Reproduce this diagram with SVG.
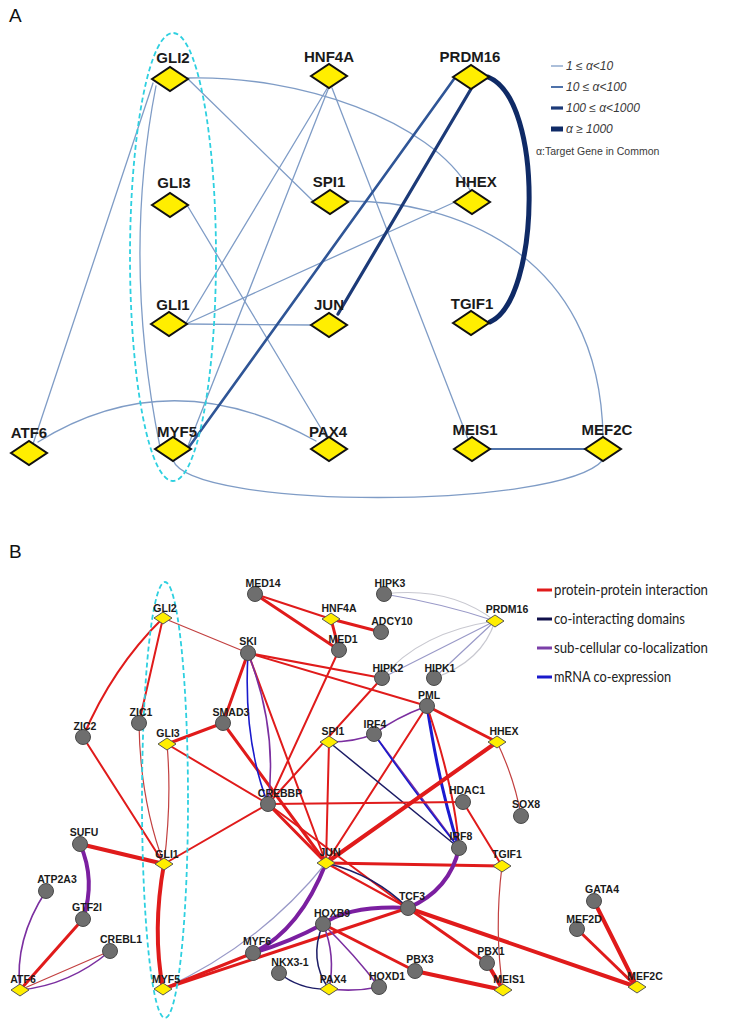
<svg xmlns="http://www.w3.org/2000/svg" width="732" height="1024" viewBox="0 0 732 1024">
<defs>
<style>
.bg{fill:#ffffff}
.panel{font-family:"Liberation Sans",Arial,sans-serif;font-size:19px;fill:#111}
.da{fill:#ffee00;stroke:#111;stroke-width:2}
.la{font-family:"Liberation Sans",Arial,sans-serif;font-size:15px;font-weight:bold;fill:#1a1a1a;text-anchor:middle}
.db{fill:#ffee00;stroke:#555;stroke-width:1}
.cb{fill:#6e6e6e;stroke:#4a4a4a;stroke-width:1}
.lb{font-family:"Liberation Sans",Arial,sans-serif;font-size:10.5px;font-weight:bold;fill:#1a1a1a;text-anchor:middle}
.e{fill:none;stroke-linecap:round}
.a1{stroke:#7f9cc6;stroke-width:1.3}
.a2{stroke:#4e72aa;stroke-width:2}
.a3{stroke:#2f5596;stroke-width:2.6}
.a4{stroke:#1c3a78;stroke-width:3.2}
.a5{stroke:#0f2a66;stroke-width:5}
.cyan{fill:none;stroke:#2ed0e0;stroke-width:1.8;stroke-dasharray:5 3}
.r{stroke:#e01b1b;stroke-width:2}
.r1{stroke:#c24040;stroke-width:1.2}
.r3{stroke:#e01b1b;stroke-width:3}
.r4{stroke:#e01b1b;stroke-width:4}
.nv{stroke:#1c1c66;stroke-width:1.5}
.pu{stroke:#7b2fa0;stroke-width:1.6}
.pu4{stroke:#7b1fa0;stroke-width:4}
.bl{stroke:#1a1acc;stroke-width:1.6}
.bl3{stroke:#1a1ad0;stroke-width:3}
.gy{stroke:#c8c8d0;stroke-width:1.2}
.lv{stroke:#9a9ac8;stroke-width:1.2}
.lg{font-family:"Liberation Sans",Arial,sans-serif;font-size:12px;font-style:italic;fill:#3a3a3a}
.lg2{font-family:"Liberation Sans Narrow","Liberation Sans",Arial,sans-serif;font-size:10.5px;fill:#3a3a3a}
.lgb{font-family:Lato,"Liberation Sans",Arial,sans-serif;font-size:15px;fill:#222}
</style>
</defs>
<rect class="bg" x="0" y="0" width="732" height="1024"/>

<!-- Panel A -->
<text class="panel" x="9" y="22">A</text>
<g id="A-connectors">
<path class="e a1" d="M187 78 C300 75 430 120 470 190"/>
<path class="e a1" d="M188 79 L313 201"/>
<path class="e a1" d="M153 83 L33 444"/>
<path class="e a1" d="M156 86 Q122 260 160 447"/>
<path class="e a1" d="M328 87 L186 323"/>
<path class="e a1" d="M329 87 L188 446"/>
<path class="e a1" d="M332 88 L468 439"/>
<path class="e a1" d="M346 201 C450 200 600 250 603 437"/>
<path class="e a1" d="M187 205 L328 440"/>
<path class="e a1" d="M186 324 L312 325"/>
<path class="e a1" d="M186 324 L455 202"/>
<path class="e a1" d="M38 442 Q170 360 316 441"/>
<path class="e a1" d="M173 460 C190 510 560 510 603 460"/>
<path class="e a2" d="M489 449 L586 449"/>
<path class="e a3" d="M454 79 L189 447"/>
<path class="e a4" d="M471 89 L338 314"/>
<path class="e a5" d="M488 77 C545 100 540 300 490 322"/>
</g>
<ellipse class="cyan" cx="173" cy="257" rx="43" ry="224"/>
<g id="A-GLI2"><path class="da" d="M152 79 L170 67 L188 79 L170 91 Z"/><text class="la" x="173" y="63">GLI2</text></g>
<g id="A-HNF4A"><path class="da" d="M311 76 L329 64 L347 76 L329 88 Z"/><text class="la" x="329" y="62">HNF4A</text></g>
<g id="A-PRDM16"><path class="da" d="M453 77 L471 65 L489 77 L471 89 Z"/><text class="la" x="470" y="62">PRDM16</text></g>
<g id="A-GLI3"><path class="da" d="M152 205 L170 193 L188 205 L170 217 Z"/><text class="la" x="174" y="188">GLI3</text></g>
<g id="A-SPI1"><path class="da" d="M312 202 L330 190 L348 202 L330 214 Z"/><text class="la" x="329" y="187">SPI1</text></g>
<g id="A-HHEX"><path class="da" d="M454 202 L472 190 L490 202 L472 214 Z"/><text class="la" x="476" y="187">HHEX</text></g>
<g id="A-GLI1"><path class="da" d="M151 324 L169 312 L187 324 L169 336 Z"/><text class="la" x="173" y="310">GLI1</text></g>
<g id="A-JUN"><path class="da" d="M311 325 L329 313 L347 325 L329 337 Z"/><text class="la" x="329" y="310">JUN</text></g>
<g id="A-TGIF1"><path class="da" d="M453 323 L471 311 L489 323 L471 335 Z"/><text class="la" x="472" y="309">TGIF1</text></g>
<g id="A-ATF6"><path class="da" d="M11 453 L29 441 L47 453 L29 465 Z"/><text class="la" x="29" y="438">ATF6</text></g>
<g id="A-MYF5"><path class="da" d="M155 449 L173 437 L191 449 L173 461 Z"/><text class="la" x="177" y="437">MYF5</text></g>
<g id="A-PAX4"><path class="da" d="M311 449 L329 437 L347 449 L329 461 Z"/><text class="la" x="328" y="437">PAX4</text></g>
<g id="A-MEIS1"><path class="da" d="M454 449 L472 437 L490 449 L472 461 Z"/><text class="la" x="475" y="435">MEIS1</text></g>
<g id="A-MEF2C"><path class="da" d="M585 449 L603 437 L621 449 L603 461 Z"/><text class="la" x="607" y="435">MEF2C</text></g>

<g id="A-legend">
<line class="a1" x1="551" y1="66" x2="563" y2="66"/>
<line class="a2" x1="551" y1="87" x2="563" y2="87"/>
<line class="a4" x1="551" y1="108" x2="563" y2="108"/>
<line class="a5" x1="551" y1="129" x2="563" y2="129"/>
<text class="lg" x="566" y="70">1 ≤ α&lt;10</text>
<text class="lg" x="566" y="91">10 ≤ α&lt;100</text>
<text class="lg" x="566" y="112">100 ≤ α&lt;1000</text>
<text class="lg" x="566" y="133">α ≥ 1000</text>
<text class="lg2" x="536" y="155">α:Target Gene in Common</text>
</g>

<!-- Panel B -->
<text class="panel" x="9" y="558">B</text>
<g id="B-connectors">
<path class="e r" d="M163 618 Q112 668 83 737"/>
<path class="e r" d="M163 618 L139 723"/>
<path class="e r1" d="M163 618 L248 653"/>
<path class="e r" d="M83 737 L164 864"/>
<path class="e r1" d="M139 723 Q140 800 164 864"/>
<path class="e r1" d="M167 744 Q172 800 164 864"/>
<path class="e r3" d="M167 744 L223 723"/>
<path class="e r" d="M167 744 L268 804"/>
<path class="e r" d="M164 864 L268 804"/>
<path class="e r4" d="M164 864 L80 844"/>
<path class="e r4" d="M164 864 Q152 930 163 989"/>
<path class="e r3" d="M248 653 L223 723"/>
<path class="e r" d="M248 653 L382 678"/>
<path class="e r" d="M248 653 L427 706"/>
<path class="e r" d="M248 653 L326 863"/>
<path class="e r3" d="M223 723 L326 863"/>
<path class="e bl" d="M248 653 Q243 740 268 804"/>
<path class="e pu" d="M248 653 Q278 730 268 804"/>
<path class="e r" d="M255 594 L331 619"/>
<path class="e r3" d="M255 594 L339 650"/>
<path class="e r3" d="M331 619 L339 650"/>
<path class="e r3" d="M331 619 L381 632"/>
<path class="e r" d="M339 650 L268 804"/>
<path class="e r" d="M382 678 L268 804"/>
<path class="e gy" d="M384 594 Q450 586 495 621"/>
<path class="e lv" d="M384 594 Q445 604 495 621"/>
<path class="e gy" d="M382 678 Q420 632 495 621"/>
<path class="e lv" d="M382 678 L495 621"/>
<path class="e gy" d="M434 678 Q482 662 495 621"/>
<path class="e lv" d="M434 678 L495 621"/>
<path class="e r3" d="M427 706 L497 742"/>
<path class="e r" d="M427 706 L326 863"/>
<path class="e bl3" d="M427 706 Q440 790 459 848"/>
<path class="e r" d="M427 706 Q455 790 459 848"/>
<path class="e pu" d="M427 706 Q395 718 374 734"/>
<path class="e pu" d="M329 742 Q355 742 374 734"/>
<path class="e nv" d="M329 742 L459 848"/>
<path class="e pu" d="M374 734 L459 848"/>
<path class="e bl" d="M374 734 Q420 800 459 848"/>
<path class="e r" d="M329 742 L326 863"/>
<path class="e r4" d="M497 742 L326 863"/>
<path class="e r1" d="M497 742 Q515 780 521 816"/>
<path class="e r" d="M268 804 L463 802"/>
<path class="e r3" d="M268 804 L326 863"/>
<path class="e r" d="M268 804 L408 908"/>
<path class="e r" d="M463 802 L502 866"/>
<path class="e r3" d="M326 863 L502 866"/>
<path class="e r" d="M326 863 L408 908"/>
<path class="e nv" d="M326 863 Q375 875 408 908"/>
<path class="e pu4" d="M326 863 Q300 930 253 953"/>
<path class="e lv" d="M326 863 Q260 945 163 989"/>
<path class="e pu4" d="M408 908 Q450 890 459 848"/>
<path class="e pu4" d="M408 908 Q350 905 323 924"/>
<path class="e r4" d="M408 908 L637 987"/>
<path class="e r3" d="M408 908 L487 963"/>
<path class="e r3" d="M408 908 L163 989"/>
<path class="e pu4" d="M323 924 Q290 942 253 953"/>
<path class="e r3" d="M323 924 L415 971"/>
<path class="e nv" d="M323 924 Q308 960 329 989"/>
<path class="e pu" d="M323 924 Q336 955 329 989"/>
<path class="e pu" d="M323 924 Q355 955 379 987"/>
<path class="e nv" d="M279 973 Q300 990 329 989"/>
<path class="e pu" d="M329 989 Q355 992 379 987"/>
<path class="e r4" d="M415 971 L503 990"/>
<path class="e r4" d="M487 963 L503 990"/>
<path class="e r1" d="M502 866 Q494 930 503 990"/>
<path class="e r4" d="M594 901 L637 987"/>
<path class="e r3" d="M577 929 L637 987"/>
<path class="e r3" d="M253 953 L163 989"/>
<path class="e pu4" d="M80 844 Q96 880 83 919"/>
<path class="e pu" d="M46 891 Q14 940 20 990"/>
<path class="e r3" d="M83 919 L20 990"/>
<path class="e r1" d="M110 951 L20 990"/>
<path class="e pu" d="M110 951 Q70 985 20 990"/>
</g>
<ellipse class="cyan" cx="165" cy="800" rx="23" ry="218"/>

<g id="B-GLI2"><path class="db" d="M154 618 L163 612 L172 618 L163 624 Z"/><text class="lb" x="165" y="612">GLI2</text></g>
<g id="B-SKI"><circle class="cb" cx="248" cy="653" r="7.5"/><text class="lb" x="248" y="645">SKI</text></g>
<g id="B-ZIC2"><circle class="cb" cx="83" cy="737" r="7.5"/><text class="lb" x="85" y="730">ZIC2</text></g>
<g id="B-ZIC1"><circle class="cb" cx="139" cy="723" r="7.5"/><text class="lb" x="141" y="716">ZIC1</text></g>
<g id="B-SMAD3"><circle class="cb" cx="223" cy="723" r="7.5"/><text class="lb" x="231" y="716">SMAD3</text></g>
<g id="B-GLI3"><path class="db" d="M158 744 L167 738 L176 744 L167 750 Z"/><text class="lb" x="168" y="737">GLI3</text></g>
<g id="B-MED14"><circle class="cb" cx="255" cy="594" r="7.5"/><text class="lb" x="263" y="587">MED14</text></g>
<g id="B-HNF4A"><path class="db" d="M322 619 L331 613 L340 619 L331 625 Z"/><text class="lb" x="339" y="612">HNF4A</text></g>
<g id="B-ADCY10"><circle class="cb" cx="381" cy="632" r="7.5"/><text class="lb" x="392" y="625">ADCY10</text></g>
<g id="B-MED1"><circle class="cb" cx="339" cy="650" r="7.5"/><text class="lb" x="343" y="643">MED1</text></g>
<g id="B-HIPK3"><circle class="cb" cx="384" cy="594" r="7.5"/><text class="lb" x="390" y="587">HIPK3</text></g>
<g id="B-PRDM16"><path class="db" d="M486 621 L495 615 L504 621 L495 627 Z"/><text class="lb" x="507" y="613">PRDM16</text></g>
<g id="B-HIPK2"><circle class="cb" cx="382" cy="678" r="7.5"/><text class="lb" x="388" y="672">HIPK2</text></g>
<g id="B-HIPK1"><circle class="cb" cx="434" cy="678" r="7.5"/><text class="lb" x="440" y="672">HIPK1</text></g>
<g id="B-PML"><circle class="cb" cx="427" cy="706" r="7.5"/><text class="lb" x="429" y="699">PML</text></g>
<g id="B-SPI1"><path class="db" d="M320 742 L329 736 L338 742 L329 748 Z"/><text class="lb" x="333" y="735">SPI1</text></g>
<g id="B-IRF4"><circle class="cb" cx="374" cy="734" r="7.5"/><text class="lb" x="375" y="728">IRF4</text></g>
<g id="B-HHEX"><path class="db" d="M488 742 L497 736 L506 742 L497 748 Z"/><text class="lb" x="504" y="735">HHEX</text></g>
<g id="B-CREBBP"><circle class="cb" cx="268" cy="804" r="7.5"/><text class="lb" x="280" y="797">CREBBP</text></g>
<g id="B-HDAC1"><circle class="cb" cx="463" cy="802" r="7.5"/><text class="lb" x="467" y="794">HDAC1</text></g>
<g id="B-IRF8"><circle class="cb" cx="459" cy="848" r="7.5"/><text class="lb" x="461" y="840">IRF8</text></g>
<g id="B-SOX8"><circle class="cb" cx="521" cy="816" r="7.5"/><text class="lb" x="526" y="808">SOX8</text></g>
<g id="B-TGIF1"><path class="db" d="M493 866 L502 860 L511 866 L502 872 Z"/><text class="lb" x="507" y="858">TGIF1</text></g>
<g id="B-JUN"><path class="db" d="M317 863 L326 857 L335 863 L326 869 Z"/><text class="lb" x="330" y="856">JUN</text></g>
<g id="B-GLI1"><path class="db" d="M155 864 L164 858 L173 864 L164 870 Z"/><text class="lb" x="167" y="858">GLI1</text></g>
<g id="B-SUFU"><circle class="cb" cx="80" cy="844" r="7.5"/><text class="lb" x="84" y="836">SUFU</text></g>
<g id="B-TCF3"><circle class="cb" cx="408" cy="908" r="7.5"/><text class="lb" x="412" y="900">TCF3</text></g>
<g id="B-GATA4"><circle class="cb" cx="594" cy="901" r="7.5"/><text class="lb" x="602" y="893">GATA4</text></g>
<g id="B-MEF2D"><circle class="cb" cx="577" cy="929" r="7.5"/><text class="lb" x="584" y="923">MEF2D</text></g>
<g id="B-ATP2A3"><circle class="cb" cx="46" cy="891" r="7.5"/><text class="lb" x="57" y="883">ATP2A3</text></g>
<g id="B-HOXB9"><circle class="cb" cx="323" cy="924" r="7.5"/><text class="lb" x="332" y="917">HOXB9</text></g>
<g id="B-GTF2I"><circle class="cb" cx="83" cy="919" r="7.5"/><text class="lb" x="87" y="911">GTF2I</text></g>
<g id="B-CREBL1"><circle class="cb" cx="110" cy="951" r="7.5"/><text class="lb" x="121" y="943">CREBL1</text></g>
<g id="B-MYF6"><circle class="cb" cx="253" cy="953" r="7.5"/><text class="lb" x="257" y="945">MYF6</text></g>
<g id="B-PBX1"><circle class="cb" cx="487" cy="963" r="7.5"/><text class="lb" x="491" y="955">PBX1</text></g>
<g id="B-NKX3-1"><circle class="cb" cx="279" cy="973" r="7.5"/><text class="lb" x="290" y="966">NKX3-1</text></g>
<g id="B-PBX3"><circle class="cb" cx="415" cy="971" r="7.5"/><text class="lb" x="420" y="963">PBX3</text></g>
<g id="B-HOXD1"><circle class="cb" cx="379" cy="987" r="7.5"/><text class="lb" x="387" y="980">HOXD1</text></g>
<g id="B-PAX4"><path class="db" d="M320 989 L329 983 L338 989 L329 995 Z"/><text class="lb" x="333" y="983">PAX4</text></g>
<g id="B-MEIS1"><path class="db" d="M494 990 L503 984 L512 990 L503 996 Z"/><text class="lb" x="509" y="983">MEIS1</text></g>
<g id="B-MEF2C"><path class="db" d="M628 987 L637 981 L646 987 L637 993 Z"/><text class="lb" x="645" y="980">MEF2C</text></g>
<g id="B-ATF6"><path class="db" d="M11 990 L20 984 L29 990 L20 996 Z"/><text class="lb" x="23" y="983">ATF6</text></g>
<g id="B-MYF5"><path class="db" d="M154 989 L163 983 L172 989 L163 995 Z"/><text class="lb" x="166" y="983">MYF5</text></g>

<g id="B-legend">
<line stroke="#e01b1b" stroke-width="3" x1="537" y1="590" x2="552" y2="590"/>
<line stroke="#10104a" stroke-width="3" x1="537" y1="619" x2="552" y2="619"/>
<line stroke="#7b3fa8" stroke-width="3" x1="537" y1="648" x2="552" y2="648"/>
<line stroke="#1a1acc" stroke-width="3" x1="537" y1="677" x2="552" y2="677"/>
<text class="lgb" x="554" y="595" textLength="154" lengthAdjust="spacingAndGlyphs">protein-protein interaction</text>
<text class="lgb" x="554" y="624" textLength="131" lengthAdjust="spacingAndGlyphs">co-interacting domains</text>
<text class="lgb" x="554" y="653" textLength="154" lengthAdjust="spacingAndGlyphs">sub-cellular co-localization</text>
<text class="lgb" x="554" y="682" textLength="117" lengthAdjust="spacingAndGlyphs">mRNA co-expression</text>
</g>
</svg>
